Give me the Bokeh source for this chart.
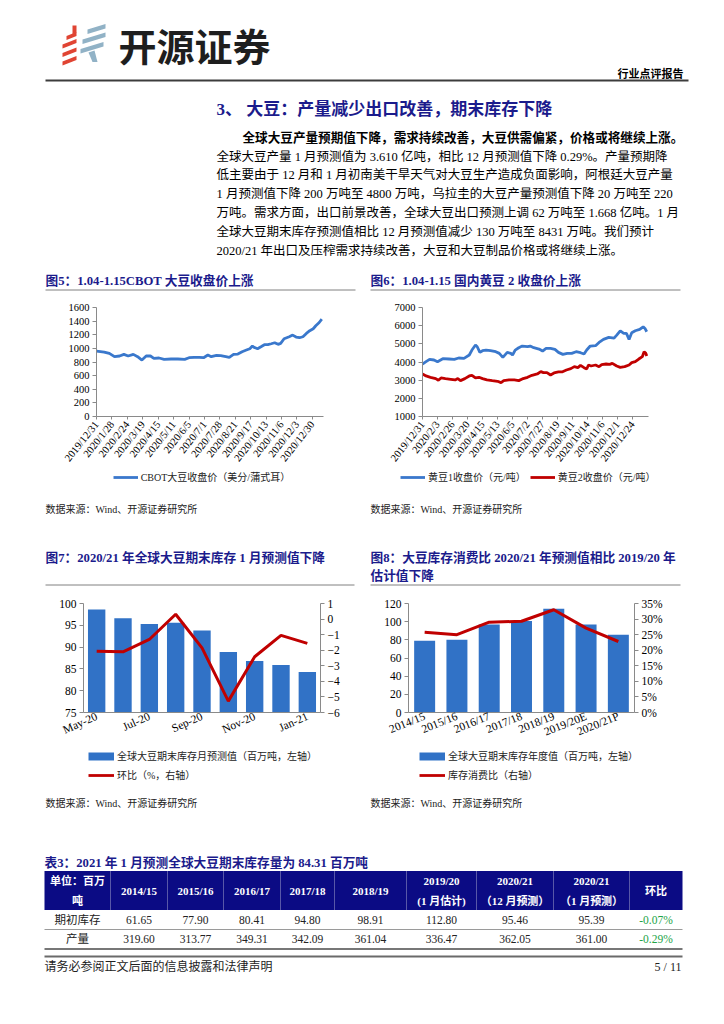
import math
from bokeh.plotting import figure
from bokeh.layouts import column, row
from bokeh.models import (Range1d, LinearAxis, FixedTicker, Legend, LegendItem,
                          PrintfTickFormatter)
from bokeh.core.properties import value
from bokeh.embed import file_html
from bokeh.resources import INLINE

# ---------------- data ----------------
# Fig 5: CBOT soybean close (US cents / bushel), trading-day index
cbot_idx = [0, 9, 15, 21, 27, 32, 37, 43, 48, 53, 58, 63, 67, 73, 79, 87, 95, 103, 108, 114,
            120, 125, 130, 134, 140, 145, 151, 155, 160, 165, 170, 175, 179, 182, 184, 188, 192,
            196, 200, 204, 208, 212, 215, 219, 225, 229, 233, 237, 241, 245, 249, 253, 256, 260, 263]
cbot_price = [961, 946, 927, 878, 888, 912, 888, 912, 878, 829, 888, 888, 854, 859, 839, 844, 844,
              839, 863, 868, 868, 863, 902, 878, 898, 893, 878, 868, 912, 917, 951, 976, 995, 1034,
              1015, 995, 1024, 1054, 1054, 1068, 1083, 1059, 1073, 1141, 1171, 1195, 1166, 1156,
              1171, 1220, 1259, 1288, 1332, 1380, 1429]
cbot_tick_labels = ["2019/12/31", "2020/1/28", "2020/2/24", "2020/3/19", "2020/4/15", "2020/5/11",
                    "2020/6/5", "2020/7/1", "2020/7/28", "2020/8/21", "2020/9/17", "2020/10/13",
                    "2020/11/6", "2020/12/3", "2020/12/30"]

# Fig 6: domestic soybean No.1 / No.2 close (yuan / ton)
a1_idx = [0, 4, 8, 13, 17, 23, 30, 36, 41, 47, 53, 56, 60, 62, 65, 68, 72, 77, 83, 87, 91, 96, 100,
          102, 105, 109, 113, 119, 122, 126, 132, 136, 140, 145, 150, 154, 159, 164, 169, 174, 179,
          183, 186, 190, 196, 200, 205, 211, 217, 220, 224, 228, 231, 234, 237, 241, 246, 250, 252, 254]
a1_price = [3890, 4018, 4146, 4110, 4018, 4183, 4164, 4146, 4219, 4201, 4384, 4658, 4933, 4841,
            4530, 4622, 4658, 4622, 4567, 4475, 4256, 4530, 4475, 4384, 4658, 4786, 4878, 4841,
            4878, 4786, 4713, 4603, 4750, 4750, 4695, 4530, 4420, 4475, 4475, 4567, 4512, 4439,
            4658, 4878, 4896, 5079, 5244, 5353, 5317, 5481, 5719, 5573, 5573, 5244, 5610, 5719,
            5792, 5939, 5847, 5664]
a2_idx = [0, 4, 9, 15, 18, 21, 26, 32, 37, 40, 43, 48, 53, 56, 60, 64, 68, 73, 79, 85, 89, 92, 98,
          104, 109, 113, 119, 124, 130, 134, 137, 141, 145, 149, 154, 158, 163, 168, 172, 176, 179,
          183, 186, 188, 191, 196, 200, 203, 208, 212, 215, 220, 224, 229, 234, 237, 241, 245, 249,
          251, 253, 254]
a2_price = [3341, 3232, 3158, 3085, 2994, 3122, 3085, 3049, 3012, 3085, 2975, 3085, 3232, 3268,
            3122, 3158, 3085, 3012, 2975, 2939, 2866, 2975, 3012, 3012, 2975, 3067, 3158, 3268,
            3341, 3469, 3414, 3414, 3286, 3396, 3451, 3451, 3561, 3634, 3744, 3689, 3817, 3689,
            3616, 3835, 3780, 3835, 3744, 3853, 3890, 3872, 3927, 3780, 3707, 3744, 3835, 3963,
            4018, 4164, 4292, 4567, 4475, 4329]
dce_tick_labels = ["2019/12/31", "2020/2/3", "2020/2/26", "2020/3/20", "2020/4/15", "2020/5/13",
                   "2020/6/5", "2020/7/2", "2020/7/27", "2020/8/19", "2020/9/11", "2020/10/14",
                   "2020/11/6", "2020/12/1", "2020/12/24"]

# Fig 7: monthly forecast of 2020/21 global ending stocks
months = ["May-20", "Jun-20", "Jul-20", "Aug-20", "Sep-20", "Oct-20", "Nov-20", "Dec-20", "Jan-21"]
month_stock = [98.6, 96.6, 95.3, 95.6, 93.8, 88.9, 86.8, 85.9, 84.31]
month_mom = [-2.06, -2.10, -1.31, 0.31, -1.85, -5.27, -2.42, -1.05, -1.56]

# Fig 8: annual ending stocks and stocks-to-use ratio
seasons = ["2014/15", "2015/16", "2016/17", "2017/18", "2018/19", "2019/20E", "2020/21P"]
season_stock = [79.0, 80.1, 97.0, 100.6, 114.2, 97.0, 85.6]
season_ratio = [25.8, 25.0, 29.0, 29.3, 33.0, 27.1, 22.8]

# Table 3
tbl_cols = ["2014/15", "2015/16", "2016/17", "2017/18", "2018/19",
            ["2019/20", "(1 月估计)"], ["2020/21", "（12 月预测）"], ["2020/21", "（1 月预测）"]]
tbl_rows = ["期初库存", "产量"]
tbl_stock = ["61.65", "77.90", "80.41", "94.80", "98.91", "112.80", "95.46", "95.39"]
tbl_prod = ["319.60", "313.77", "349.31", "342.09", "361.04", "336.47", "362.05", "361.00"]
tbl_chg = ["-0.07%", "-0.29%"]

# ---------------- styles ----------------
SERIF = "Liberation Serif, Noto Sans CJK SC"
SANS = "Noto Sans CJK SC"
NAVY = "#1b1b8c"
BLUE = "#3a78cc"
BAR = "#3172c6"
RED = "#c00000"
AXIS = "#8a8a8a"
TITLE_SIZE = 12.7


def text_fig(w, h, x0, y0):
    p = figure(width=w, height=h, x_range=Range1d(x0, x0 + w), y_range=Range1d(y0 + h, y0),
               x_axis_location=None, y_axis_location=None, min_border=0,
               toolbar_location=None, output_backend="svg")
    p.grid.visible = False
    p.outline_line_color = None
    return p


def txt(p, x, y, s, size, color="#000000", font=SERIF, bold=False, align="left"):
    p.text(x=[x], y=[y], text=[s], text_font=value(font), text_font_size=f"{size}px",
           text_color=color, text_align=align, text_baseline="middle",
           text_font_style="bold" if bold else "normal")


def hline(p, x0, x1, y, color="#808080", w=1.0):
    p.segment(x0=[x0], y0=[y], x1=[x1], y1=[y], line_color=color, line_width=w)


def style_axis(ax, size="10px", tick_out=4):
    ax.axis_line_color = AXIS
    ax.major_tick_line_color = AXIS
    ax.major_tick_out = tick_out
    ax.major_tick_in = 0
    ax.minor_tick_out = 0
    ax.minor_tick_in = 0
    ax.major_label_text_font = "Liberation Serif"
    ax.major_label_text_font_size = size
    ax.major_label_text_color = "#000000"
    ax.major_label_standoff = 3


def add_legend(p, entries, loc, orientation, gw):
    """Legend drawn in a text strip under a chart; samples are off-view proxies."""
    items = []
    for label, kind, color in entries:
        lw = 8 if kind == "bar" else 2.8
        r = p.line(x=[-2000, -1990], y=[-2000, -2000], line_color=color, line_width=lw)
        items.append(LegendItem(label=label, renderers=[r]))
    lg = Legend(items=items, location=loc, orientation=orientation, glyph_width=gw,
                glyph_height=14, label_height=14, label_width=10, padding=0, margin=0,
                spacing=4, label_standoff=3, border_line_color=None,
                background_fill_alpha=0, label_text_font=SERIF,
                label_text_font_size="10px", label_text_color="#222222")
    p.add_layout(lg, "center")


# ---------------- Row A: header, text, figure titles (page y 0 -> 296) ----------------
pa = text_fig(716, 296, 0, 0)
red_stripes = [(66, 35.5, 76, 31.5), (62, 44, 76, 38.5), (62, 52.5, 76, 47), (62, 61, 76, 55.5)]
pa.patches(xs=[[a, c, c, a] for a, b, c, d in red_stripes],
           ys=[[b, d, d + 4, b + 4] for a, b, c, d in red_stripes],
           fill_color="#e04433", line_color=None)
pa.patches(xs=[[72, 76, 76, 72]], ys=[[25, 25, 32, 34]], fill_color="#e04433", line_color=None)
blue_stripes = [(87, 29, 105, 23.5), (82, 39, 105, 32), (80, 48.5, 103, 41.5)]
pa.patches(xs=[[a, c, c, a] for a, b, c, d in blue_stripes],
           ys=[[b, d, d + 4.5, b + 4.5] for a, b, c, d in blue_stripes],
           fill_color="#91b2c6", line_color=None)
pa.patches(xs=[[88, 94, 97, 92]], ys=[[52, 50, 61.5, 61.5]], fill_color="#91b2c6", line_color=None)
txt(pa, 118, 44, "开源证券", 38, "#1e1e1e", SANS, True)
txt(pa, 683, 73, "行业点评报告", 11, "#000000", SERIF, True, "right")
hline(pa, 45, 688, 80, "#3c3c3c", 2)

txt(pa, 216, 109, "3、 大豆：产量减少出口改善，期末库存下降", 17, NAVY, SERIF, True)
txt(pa, 242, 137, "全球大豆产量预期值下降，需求持续改善，大豆供需偏紧，价格或将继续上涨。", 12.6, "#000000", SERIF, True)
para = ["全球大豆产量 1 月预测值为 3.610 亿吨，相比 12 月预测值下降 0.29%。产量预期降",
        "低主要由于 12 月和 1 月初南美干旱天气对大豆生产造成负面影响，阿根廷大豆产量",
        "1 月预测值下降 200 万吨至 4800 万吨，乌拉圭的大豆产量预测值下降 20 万吨至 220",
        "万吨。需求方面，出口前景改善，全球大豆出口预测上调 62 万吨至 1.668 亿吨。1 月",
        "全球大豆期末库存预测值相比  12  月预测值减少  130  万吨至  8431  万吨。我们预计",
        "2020/21 年出口及压榨需求持续改善，大豆和大豆制品价格或将继续上涨。"]
for i, line in enumerate(para):
    txt(pa, 216, 156 + i * 18.8, line, 12.5)

txt(pa, 45, 280, "图5：1.04-1.15CBOT 大豆收盘价上涨", TITLE_SIZE, NAVY, SERIF, True)
txt(pa, 370, 280, "图6：1.04-1.15 国内黄豆 2 收盘价上涨", TITLE_SIZE, NAVY, SERIF, True)
hline(pa, 45, 355, 289.5)
hline(pa, 370, 680, 289.5)

# ---------------- Row B: Fig 5 and Fig 6 (page y 296 -> 470) ----------------
p5 = figure(width=362, height=174, x_range=Range1d(0, 265), y_range=Range1d(0, 1600),
            min_border_left=96, min_border_right=39, min_border_top=11, min_border_bottom=54,
            toolbar_location=None, output_backend="svg")
p5.line(cbot_idx, cbot_price, line_color=BLUE, line_width=2.8)
p5.grid.visible = False
p5.outline_line_color = None
p5.yaxis.ticker = FixedTicker(ticks=list(range(0, 1601, 200)))
p5.xaxis.ticker = FixedTicker(ticks=[i * 18 for i in range(len(cbot_tick_labels))])
p5.xaxis.major_label_overrides = {i * 18: s for i, s in enumerate(cbot_tick_labels)}
p5.xaxis.major_label_orientation = 0.9
style_axis(p5.yaxis[0], "10.5px")
style_axis(p5.xaxis[0], "10.5px", tick_out=3)

p6 = figure(width=354, height=174, x_range=Range1d(0, 256), y_range=Range1d(1000, 7000),
            min_border_left=60, min_border_right=68, min_border_top=11, min_border_bottom=54,
            toolbar_location=None, output_backend="svg")
p6.line(a1_idx, a1_price, line_color=BLUE, line_width=2.8)
p6.line(a2_idx, a2_price, line_color=RED, line_width=2.8)
p6.grid.visible = False
p6.outline_line_color = None
p6.yaxis.ticker = FixedTicker(ticks=list(range(1000, 7001, 1000)))
p6.xaxis.ticker = FixedTicker(ticks=[i * 17 for i in range(len(dce_tick_labels))])
p6.xaxis.major_label_overrides = {i * 17: s for i, s in enumerate(dce_tick_labels)}
p6.xaxis.major_label_orientation = 0.9
style_axis(p6.yaxis[0], "10.5px")
style_axis(p6.xaxis[0], "10.5px", tick_out=3)

# ---------------- Row C: legends 5/6, sources, titles (page y 470 -> 596) ----------------
pc = text_fig(716, 126, 0, 470)
add_legend(pc, [("CBOT大豆收盘价（美分/蒲式耳）", "line", BLUE)], (112.7, 112), "horizontal", 25)
add_legend(pc, [("黄豆1收盘价（元/吨）", "line", BLUE), ("黄豆2收盘价（元/吨）", "line", RED)],
           (400, 112), "horizontal", 25)
src = "数据来源：Wind、开源证券研究所"
txt(pc, 45, 509, src, 10, "#222222")
txt(pc, 370, 509, src, 10, "#222222")
txt(pc, 45, 557, "图7：2020/21 年全球大豆期末库存 1 月预测值下降", TITLE_SIZE, NAVY, SERIF, True)
txt(pc, 370, 557, "图8：大豆库存消费比 2020/21 年预测值相比 2019/20 年", TITLE_SIZE, NAVY, SERIF, True)
txt(pc, 370, 575.5, "估计值下降", TITLE_SIZE, NAVY, SERIF, True)
hline(pc, 45, 354, 584.5)
hline(pc, 370, 680, 584.5)

# ---------------- Row D: Fig 7 and Fig 8 (page y 596 -> 746) ----------------
p7 = figure(width=362, height=150, x_range=Range1d(-0.5, 8.5), y_range=Range1d(75, 100),
            min_border_left=83, min_border_right=42, min_border_top=6, min_border_bottom=33,
            toolbar_location=None, output_backend="svg")
p7.extra_y_ranges = {"mom": Range1d(-6, 1)}
x7 = list(range(len(months)))
p7.vbar(x=x7, top=month_stock, width=0.66, fill_color=BAR, line_color=None)
p7.line(x7, month_mom, y_range_name="mom", line_color=RED, line_width=3)
ax7r = LinearAxis(y_range_name="mom", ticker=FixedTicker(ticks=list(range(-6, 2))))
p7.add_layout(ax7r, "right")
p7.grid.visible = False
p7.outline_line_color = None
p7.yaxis[0].ticker = FixedTicker(ticks=list(range(75, 101, 5)))
p7.xaxis.ticker = FixedTicker(ticks=x7[::2])
p7.xaxis.major_label_overrides = {i: months[i] for i in x7[::2]}
p7.xaxis.major_label_orientation = 0.42
for ax in [p7.yaxis[0], ax7r]:
    style_axis(ax, "11.5px")
style_axis(p7.xaxis[0], "11.5px", tick_out=0)

p8 = figure(width=354, height=150, x_range=Range1d(-0.5, 6.5), y_range=Range1d(0, 120),
            min_border_left=46, min_border_right=82, min_border_top=7, min_border_bottom=34,
            toolbar_location=None, output_backend="svg")
p8.extra_y_ranges = {"ratio": Range1d(0, 35)}
x8 = list(range(len(seasons)))
p8.vbar(x=x8, top=season_stock, width=0.65, fill_color=BAR, line_color=None)
p8.line(x8, season_ratio, y_range_name="ratio", line_color=RED, line_width=3)
ax8r = LinearAxis(y_range_name="ratio", ticker=FixedTicker(ticks=list(range(0, 36, 5))),
                  formatter=PrintfTickFormatter(format="%d%%"))
p8.add_layout(ax8r, "right")
p8.grid.visible = False
p8.outline_line_color = None
p8.yaxis[0].ticker = FixedTicker(ticks=list(range(0, 121, 20)))
p8.xaxis.ticker = FixedTicker(ticks=x8)
p8.xaxis.major_label_overrides = {i: s for i, s in enumerate(seasons)}
p8.xaxis.major_label_orientation = 0.38
for ax in [p8.yaxis[0], ax8r]:
    style_axis(ax, "11.5px")
style_axis(p8.xaxis[0], "11.5px", tick_out=0)

# ---------------- Row E: legends 7/8, sources, table, footer (page y 746 -> 1016) ----------------
pe = text_fig(716, 270, 0, 746)
add_legend(pe, [("全球大豆期末库存月预测值（百万吨，左轴）", "bar", BAR),
                ("环比（%，右轴）", "line", RED)], (88, 234), "vertical", 26)
add_legend(pe, [("全球大豆期末库存年度值（百万吨，左轴）", "bar", BAR),
                ("库存消费比（右轴）", "line", RED)], (419, 234), "vertical", 26)
txt(pe, 45, 803, src, 10, "#222222")
txt(pe, 370, 803, src, 10, "#222222")
txt(pe, 44, 862.5, "表3：2021 年 1 月预测全球大豆期末库存量为 84.31 百万吨", TITLE_SIZE, NAVY, SERIF, True)

bounds = [44, 110, 167, 223, 280, 334, 406, 476, 553, 629, 682]
centers = [(bounds[i] + bounds[i + 1]) / 2 for i in range(len(bounds) - 1)]
pe.quad(left=[44], right=[682], top=[870.5], bottom=[909.5], fill_color="#0b0b84", line_color=None)
pe.segment(x0=bounds[1:-1], y0=[870.5] * 9, x1=bounds[1:-1], y1=[909.5] * 9,
           line_color="#5858a8", line_width=1)
txt(pe, centers[0], 880.5, "单位：百万", 11, "#ffffff", SERIF, True, "center")
txt(pe, centers[0], 900, "吨", 11, "#ffffff", SERIF, True, "center")
for i, col in enumerate(tbl_cols):
    cx = centers[i + 1]
    if isinstance(col, list):
        txt(pe, cx, 880.5, col[0], 11, "#ffffff", SERIF, True, "center")
        txt(pe, cx, 900, col[1], 11, "#ffffff", SERIF, True, "center")
    else:
        txt(pe, cx, 890, col, 11, "#ffffff", SERIF, True, "center")
txt(pe, centers[-1], 890, "环比", 11, "#ffffff", SERIF, True, "center")

row_y = [919, 938.5]
for r, (name, vals) in enumerate(zip(tbl_rows, [tbl_stock, tbl_prod])):
    txt(pe, centers[0], row_y[r], name, 11.5, "#222222", SERIF, False, "center")
    for i, v in enumerate(vals):
        txt(pe, centers[i + 1], row_y[r], v, 11.5, "#222222", SERIF, False, "center")
    txt(pe, centers[-1], row_y[r], tbl_chg[r], 11.5, "#22a447", SERIF, False, "center")
hline(pe, 44, 682, 929, "#9a9a9a", 1)
hline(pe, 44, 682, 948.5, "#4a4a4a", 1.5)
hline(pe, 44, 682, 956, "#6a6a6a", 2.2)
txt(pe, 44, 966, "请务必参阅正文后面的信息披露和法律声明", 12, "#222222")
txt(pe, 681, 966, "5 / 11", 12, "#222222", SERIF, False, "right")

layout = column(pa, row(p5, p6), pc, row(p7, p8), pe)
open("out.html", "w").write(file_html(layout, INLINE))
